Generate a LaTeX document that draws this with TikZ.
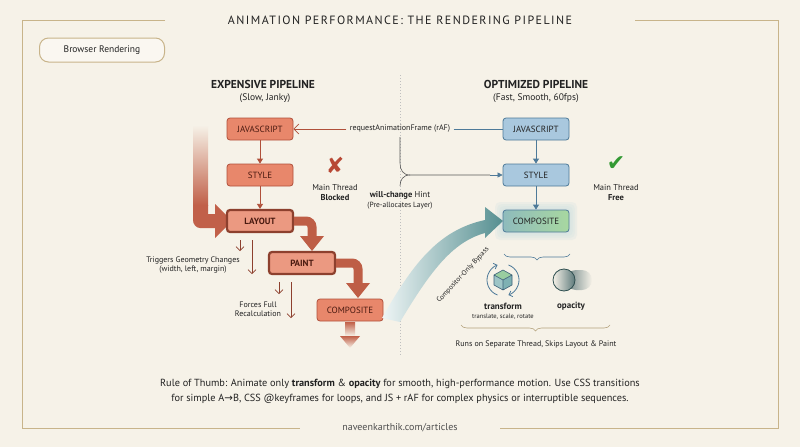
\documentclass[tikz,border=0pt]{standalone}
\usepackage{fontspec}
\setmainfont{PT Sans}
\newfontfamily\spaced[LetterSpace=12]{PT Sans}
\newfontfamily\sym{DejaVu Sans}
\usetikzlibrary{arrows.meta,decorations.pathreplacing,shadings}
\definecolor{bg}{HTML}{F6F2E8}
\definecolor{frame}{HTML}{C8B48A}
\definecolor{rfill}{HTML}{E8876B}
\definecolor{rdraw}{HTML}{B0503A}
\definecolor{rtext}{HTML}{4A1A10}
\definecolor{bfill}{HTML}{A9C8DE}
\definecolor{bdraw}{HTML}{4E7A99}
\definecolor{teal}{HTML}{5E9EA0}
\definecolor{tgreen}{HTML}{A8D8A0}
\definecolor{ink}{HTML}{222222}
\tikzset{
 rbox/.style={draw=rdraw,fill=rfill,rounded corners=3pt,minimum width=66pt,minimum height=22pt,text=rtext,font=\fontsize{9}{10}\selectfont,line width=0.8pt},
 rthick/.style={rbox,line width=2.2pt,draw=rdraw!80!black,fill=rfill!85!white},
 bbox/.style={draw=bdraw,fill=bfill,rounded corners=3pt,minimum width=66pt,minimum height=22pt,text=ink,font=\fontsize{9}{10}\selectfont,line width=0.8pt},
 lbl/.style={font=\fontsize{8}{9}\selectfont,text=ink,align=center},
 head/.style={font=\bfseries\fontsize{11.5}{13}\selectfont,text=ink},
 sub/.style={font=\fontsize{9.5}{11}\selectfont,text=ink},
 thin/.style={rdraw!80!black,line width=0.6pt,-{Straight Barb[length=4pt]}},
 conn/.style={line width=0.6pt},
}
\begin{document}
\begin{tikzpicture}[x=1pt,y=-1pt]
\useasboundingbox (0,0) rectangle (800,447);
\fill[bg] (0,0) rectangle (800,447);
% frame
\draw[frame,line width=1pt] (165,20) -- (22,20) -- (22,428) -- (300,428);
\draw[frame,line width=1pt] (635,20) -- (778,20) -- (778,428) -- (500,428);
\node[font=\spaced\fontsize{12}{14}\selectfont,text=ink] (title) at (400,20) {ANIMATION PERFORMANCE: THE RENDERING PIPELINE};
\node[font=\fontsize{10}{12}\selectfont,text=ink!80] (foot) at (400,428) {naveenkarthik.com/articles};
\node[draw=frame,fill=bg!60!white,rounded corners=9pt,minimum width=125pt,minimum height=24pt,font=\fontsize{9.5}{11}\selectfont,text=ink,line width=1pt] (br) at (102,50) {Browser Rendering};
% divider
\draw[gray!50,dotted,line width=1pt] (400,75) -- (400,355);
% headings
\node[head] (h1) at (263,84) {EXPENSIVE PIPELINE};
\node[sub] (s1) at (265,98) {(Slow, Janky)};
\node[head] (h2) at (536,84) {OPTIMIZED PIPELINE};
\node[sub] (s2) at (536,98) {(Fast, Smooth, 60fps)};
% big arrows left
\shade[top color=bg,bottom color=rdraw!70!rfill] (193,125) rectangle (208,205);
\fill[rdraw!70!rfill] (193,205) -- (193,220) .. controls (193,224) and (196,228) .. (200,228) -- (215,228) -- (215,238) -- (232,221) -- (215,204) -- (215,214) -- (208,214) -- (208,205) -- cycle;
% nodes left
\node[rbox] (js1) at (260,129) {JAVASCRIPT};
\node[rbox] (st1) at (260,175) {STYLE};
\node[rthick] (la1) at (260,221) {\bfseries LAYOUT};
\node[rthick] (pa1) at (302,263) {\bfseries PAINT};
\node[rbox] (co1) at (350,310) {COMPOSITE};
\draw[rdraw,line width=0.8pt,-{Triangle[length=5pt,width=6pt]}] (js1) -- (st1);
\draw[rdraw,line width=0.8pt,-{Triangle[length=5pt,width=6pt]}] (st1) -- (la1);
\draw[rdraw!75!rfill,line width=9pt,rounded corners=6pt] (la1.east) -- (312,221) -- (312,236);
\fill[rdraw!75!rfill] (300,236) -- (324,236) -- (312,251) -- cycle;
\draw[rdraw!75!rfill,line width=9pt,rounded corners=6pt] (pa1.east) -- (358,263) -- (358,283);
\fill[rdraw!75!rfill] (346,283) -- (370,283) -- (358,298) -- cycle;
\shade[top color=rdraw!70!rfill,bottom color=bg] (345,322) rectangle (355,336);
\shade[top color=rdraw!70!rfill,bottom color=bg] (340,336) -- (360,336) -- (350,348) -- cycle;
% thin arrows
\draw[thin] (240,240) -- (240,251);
\draw[thin] (252,240) -- (252,274);
\node[lbl] (tr) at (193,265) {Triggers Geometry Changes\\(width, left, margin)};
\draw[thin] (279,282) -- (279,294);
\draw[thin] (291,282) -- (291,318);
\node[lbl] (ff) at (258,309) {Forces Full\\Recalculation};
% X
\node[text=rdraw!90!red,font=\sym\fontsize{22}{22}\selectfont] (x) at (335,165) {✘};
\node[lbl,font=\fontsize{8.5}{10}\selectfont] (mt1) at (335,193) {Main Thread\\\textbf{Blocked}};
% right nodes
\node[bbox] (js2) at (536,129) {JAVASCRIPT};
\node[bbox] (st2) at (536,175) {STYLE};
\foreach \g in {8,6,4,2}{\fill[teal!30,opacity=0.25,rounded corners=5pt] (503-\g,210-\g) rectangle (569+\g,232+\g);}
\shade[left color=teal!70,right color=tgreen,rounded corners=3pt] (503,210) rectangle (569,232);
\node[draw=bdraw,rounded corners=3pt,minimum width=66pt,minimum height=22pt,font=\fontsize{9}{10}\selectfont,text=ink,line width=0.8pt] (co2) at (536,221) {COMPOSITE};
\draw[bdraw,line width=0.8pt,-{Triangle[length=5pt,width=6pt]}] (js2) -- (st2);
\draw[bdraw,line width=0.8pt,-{Triangle[length=5pt,width=6pt]}] (st2) -- (co2);
% rAF
\node[lbl] (raf) at (400,129) {requestAnimationFrame (rAF)};
\draw[rdraw,conn,-{Straight Barb[length=5pt]}] (raf.west) -- (js1.east);
\draw[bdraw,conn] (raf.east) -- (js2.west);
\coordinate (b1) at (400,137);
\draw[gray!70!black,conn] (b1) -- (400,163) .. controls (400,170) and (403,175) .. (410,175) -- (490,175);
\draw[bdraw,conn,-{Triangle[length=5pt,width=5pt]}] (490,175) -- (st2.west);
\draw[gray!70!black,conn] (410,175) .. controls (403,175) and (400,180) .. (400,186);
\node[lbl,font=\fontsize{8.5}{10}\selectfont] (wc) at (400,195) {\textbf{will-change} Hint};
\node[lbl,font=\fontsize{7.5}{9}\selectfont] (pa) at (400,206) {(Pre-allocates Layer)};
% check
\node[text=green!50!black!80,font=\sym\fontsize{22}{22}\selectfont] (ck) at (616,164) {✔};
\node[lbl,font=\fontsize{8.5}{10}\selectfont] (mt2) at (616,193) {Main Thread\\\textbf{Free}};
% bypass arrow
\shade[left color=teal!10,right color=teal!90!black] (382,318) .. controls (412,265) and (438,230) .. (485,220) -- (485,207) -- (503,221) -- (485,238) -- (485,233) .. controls (452,242) and (430,272) .. (400,322) -- cycle;
\node[lbl,font=\fontsize{7}{8}\selectfont,rotate=47] (byp) at (463,275) {Compositor-Only Bypass};
% brace
\draw[bdraw,conn,decorate,decoration={brace,amplitude=6pt,mirror}] (504,254) -- (570,254);
% transform icon
\draw[bdraw,line width=0.8pt,-{Straight Barb[length=3pt]}] (503,280) ++(110:16) arc (110:250:16);
\draw[bdraw,line width=0.8pt,-{Straight Barb[length=3pt]}] (503,280) ++(-70:16) arc (-70:70:16);
\fill[tgreen!80!teal] (503,270) -- (512,275) -- (503,280) -- (494,275) -- cycle;
\fill[teal!60] (494,275) -- (503,280) -- (503,290) -- (494,285) -- cycle;
\fill[teal!80] (512,275) -- (503,280) -- (503,290) -- (512,285) -- cycle;
\draw[bdraw!80!black,line width=0.6pt] (503,270) -- (512,275) -- (512,285) -- (503,290) -- (494,285) -- (494,275) -- cycle (494,275) -- (503,280) -- (512,275) (503,280) -- (503,290);
% opacity icon
\shade[left color=teal!50!black!70,right color=bg,rounded corners=10pt] (566,270) rectangle (592,290);
\shade[left color=bg,right color=teal!55!black!80] (564,280) circle (11);
\draw[teal!50!black,line width=0.8pt] (564,280) circle (11);
\node[font=\bfseries\fontsize{9}{10}\selectfont,text=ink] (tf) at (503,306) {transform};
\node[font=\fontsize{6.5}{8}\selectfont,text=ink] (tfs) at (503,317) {translate, scale, rotate};
\node[font=\bfseries\fontsize{9}{10}\selectfont,text=ink] (op) at (571,306) {opacity};
\draw[frame!90!black,conn,decorate,decoration={brace,amplitude=6pt,mirror}] (461,325) -- (610,325);
\node[lbl] (runs) at (536,344) {Runs on Separate Thread, Skips Layout \& Paint};
% rule
\node[font=\fontsize{10.3}{15}\selectfont,text=ink,align=center] (rule) at (400,391) {Rule of Thumb: Animate only \textbf{transform} \& \textbf{opacity} for smooth, high-performance motion. Use CSS transitions\\for simple A{\sym→}B, CSS @keyframes for loops, and JS + rAF for complex physics or interruptible sequences.};
\end{tikzpicture}
\end{document}
